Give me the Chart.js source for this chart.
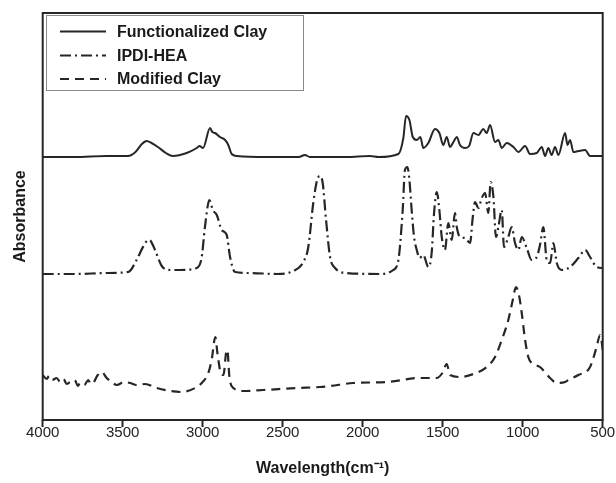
<!DOCTYPE html>
<html>
<head>
<meta charset="utf-8">
<script src="https://cdn.jsdelivr.net/npm/chart.js@4"></script>
<style>
html,body{margin:0;padding:0;background:#fff;}
canvas{display:block;}
</style>
</head>
<body>
<canvas id="c" width="616" height="483"></canvas>
<script>
// Wavenumber (cm-1) / absorbance (arbitrary units, offset curves)
const seriesNames = ["Functionalized Clay", "IPDI-HEA", "Modified Clay"];
const xTicks = [4000, 3500, 3000, 2500, 2000, 1500, 1000, 500];

const funcWn = [4000,3800,3600,3467,3420,3380,3350,3320,3280,3230,3186,3100,3037,3020,2998,2954,2940,2923,2892,2860,2840,2819,2787,2600,2400,2361,2330,2100,1955,1900,1777,1746,1729,1708,1687,1662,1640,1621,1590,1548,1521,1496,1475,1454,1433,1412,1392,1360,1335,1308,1277,1246,1225,1204,1173,1152,1131,1100,1058,1027,985,954,912,881,860,840,819,798,777,735,720,704,683,652,610,579,517,500];
const funcAbs = [263,263,264,264,268,276,279,277,273,267,264,267,272,274,272,292,288,287,283,280,275,266,264,263,263,265,263,263,264,263,266,282,304,300,283,280,283,272,277,291,287,275,283,273,278,283,275,272,274,287,285,291,287,295,278,280,272,277,273,268,274,266,267,273,264,272,265,273,265,287,275,280,268,269,270,264,264,264];

const ipdiWn = [4000,3800,3600,3465,3413,3370,3340,3325,3298,3256,3204,3142,3037,3006,2986,2958,2937,2912,2881,2850,2829,2798,2704,2537,2433,2371,2340,2309,2285,2267,2250,2229,2204,2173,2100,1892,1809,1777,1750,1736,1721,1708,1694,1679,1662,1645,1621,1590,1569,1554,1537,1521,1506,1486,1465,1444,1423,1412,1392,1360,1329,1312,1298,1277,1256,1235,1215,1200,1183,1167,1152,1131,1117,1090,1069,1048,1027,1006,975,944,912,892,871,850,829,808,787,756,704,652,610,579,538,506,500];
const ipdiAbs = [146,146,147,148,160,174,180,179,170,154,150,150,152,163,193,220,210,205,190,185,163,148,147,146,149,158,173,217,240,244,237,200,163,152,147,146,150,160,210,250,253,240,210,183,170,162,165,153,167,207,228,210,183,170,197,180,207,193,183,182,177,203,218,212,222,227,207,238,223,183,193,210,173,183,193,177,170,183,172,160,163,175,193,160,157,177,157,150,153,162,170,163,153,152,152];

const modWn = [4000,3975,3960,3940,3913,3890,3870,3850,3829,3800,3780,3767,3740,3715,3700,3680,3660,3631,3600,3570,3537,3490,3454,3410,3360,3287,3204,3131,3048,3006,2965,2944,2921,2908,2887,2870,2854,2846,2833,2808,2746,2621,2413,2267,2204,2058,1850,1644,1539,1502,1475,1454,1392,1308,1225,1173,1131,1090,1062,1042,1021,1006,985,965,944,892,829,787,735,715,652,579,538,517,506,500];
const modAbs = [45,41,44,40,42,38,41,36,38,40,34,37,35,40,36,38,44,48,42,38,35,38,37,35,36,32,29,28,32,37,47,60,83,67,47,45,67,70,43,32,29,30,32,33,34,37,38,42,42,47,56,45,43,46,53,63,80,100,120,133,123,107,80,63,57,53,42,37,38,40,45,53,73,85,78,70];

const toPts = (wn, a) => wn.map((w, i) => ({x: w, y: a[i]}));
const ink = '#262626';

const boxAndLegend = {
  id: 'boxAndLegend',
  afterDraw(chart) {
    const ctx = chart.ctx, a = chart.chartArea;
    ctx.save();
    ctx.strokeStyle = ink;
    ctx.lineWidth = 2;
    ctx.setLineDash([]);
    ctx.strokeRect(a.left, a.top, a.right - a.left, a.bottom - a.top);
    // legend
    const lx = 46.5, ly = 15.5, lw = 257, lh = 75;
    ctx.lineWidth = 1;
    ctx.strokeStyle = '#8a8a8a';
    ctx.fillStyle = '#fff';
    ctx.fillRect(lx, ly, lw, lh);
    ctx.strokeRect(lx, ly, lw, lh);
    const rows = [31.5, 55.5, 79];
    ctx.font = 'bold 16px "Liberation Sans", Arial, sans-serif';
    ctx.textBaseline = 'middle';
    chart.data.datasets.forEach((ds, i) => {
      ctx.strokeStyle = ink;
      ctx.lineWidth = 2;
      ctx.setLineDash(ds.borderDash || []);
      ctx.beginPath();
      ctx.moveTo(60, rows[i]);
      ctx.lineTo(106, rows[i]);
      ctx.stroke();
      ctx.setLineDash([]);
      ctx.fillStyle = '#1a1a1a';
      ctx.fillText(ds.label, 117, rows[i] + 1);
    });
    ctx.restore();
  }
};

new Chart(document.getElementById('c'), {
  type: 'line',
  data: {
    datasets: [
      {label: seriesNames[0], data: toPts(funcWn, funcAbs), borderColor: ink, borderWidth: 2, borderDash: []},
      {label: seriesNames[1], data: toPts(ipdiWn, ipdiAbs), borderColor: ink, borderWidth: 2.2, borderDash: [11,4,2,4]},
      {label: seriesNames[2], data: toPts(modWn, modAbs), borderColor: ink, borderWidth: 2.2, borderDash: [9,6]}
    ]
  },
  options: {
    responsive: false,
    animation: false,
    devicePixelRatio: 1,
    layout: {padding: {left: 0, right: 13.3, top: 13, bottom: 0}},
    elements: {
      point: {radius: 0},
      line: {tension: 0.3, cubicInterpolationMode: 'monotone', fill: false, borderJoinStyle: 'round', borderCapStyle: 'butt'}
    },
    plugins: {legend: {display: false}, tooltip: {enabled: false}},
    scales: {
      x: {
        type: 'linear', reverse: true, min: 500, max: 4000,
        afterFit: s => { s.height = 63; },
        afterBuildTicks: s => { s.ticks = xTicks.map(v => ({value: v})); },
        ticks: {
          autoSkip: false, maxRotation: 0, padding: -2,
          color: '#222',
          font: {family: '"Liberation Sans", Arial, sans-serif', size: 15, lineHeight: 1},
          callback: v => String(v)
        },
        grid: {drawOnChartArea: false, drawTicks: true, tickLength: 7, tickWidth: 2, tickColor: ink},
        border: {display: false},
        title: {
          display: true, text: 'Wavelength(cm\u207B\u00B9)', color: '#1a1a1a',
          font: {family: '"Liberation Sans", Arial, sans-serif', size: 16, weight: 'bold'},
          padding: {top: 0, bottom: 5}
        }
      },
      y: {
        min: 0, max: 407,
        afterFit: s => { s.width = 42.7; },
        ticks: {display: false},
        grid: {display: false},
        border: {display: false},
        title: {
          display: true, text: 'Absorbance', color: '#1a1a1a',
          font: {family: '"Liberation Sans", Arial, sans-serif', size: 16, weight: 'bold'},
          padding: {top: 11, bottom: 0}
        }
      }
    }
  },
  plugins: [boxAndLegend]
});
</script>
</body>
</html>
